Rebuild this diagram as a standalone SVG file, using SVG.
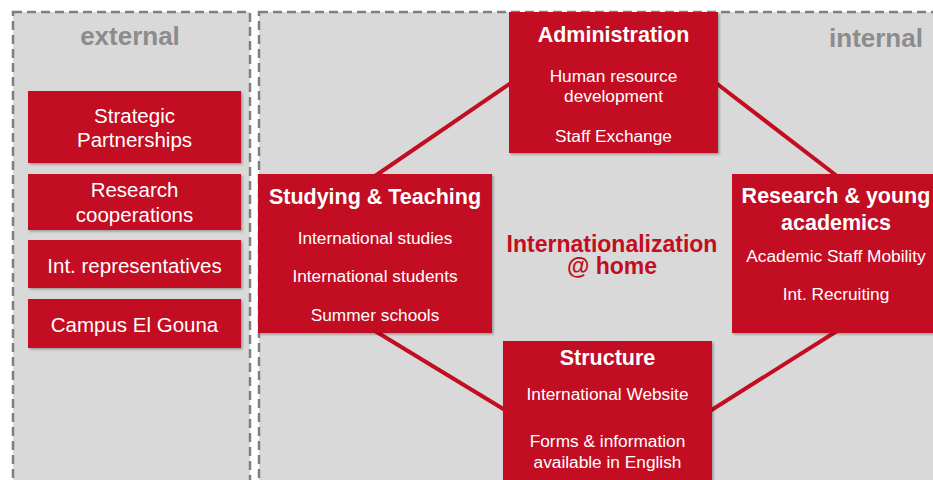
<svg xmlns="http://www.w3.org/2000/svg" width="933" height="480" viewBox="0 0 933 480">
<defs>
<filter id="sh" x="-10%" y="-10%" width="120%" height="120%">
<feDropShadow dx="1.5" dy="1.5" stdDeviation="1.2" flood-color="#000" flood-opacity="0.3"/>
</filter>
</defs>
<style>
.panel{fill:#d9d9d9;stroke:#7f7f7f;stroke-width:2.5;stroke-dasharray:9 5}
.box{fill:#c30d20;filter:url(#sh)}
.ptitle{font-family:"Liberation Sans",Arial,sans-serif;font-weight:bold;font-size:26px;fill:#8c8c8c;text-anchor:middle}
.t{font-family:"Liberation Sans",Arial,sans-serif;fill:#fff;text-anchor:middle}
.ext{font-size:20.5px}
.ttl{font-size:21.5px;font-weight:bold}
.it{font-size:17.3px}
.ctr{font-family:"Liberation Sans",Arial,sans-serif;font-weight:bold;font-size:23px;fill:#c30d20;text-anchor:middle}
.conn{stroke:#c30d20;stroke-width:4;fill:none}
</style>
<rect width="933" height="480" fill="#fff"/>
<g id="external-panel">
<rect class="panel" x="13" y="12" width="237" height="500"/>
<text class="ptitle" x="130" y="45">external</text>
</g>
<g id="internal-panel">
<rect class="panel" x="259" y="12" width="720" height="500"/>
<text class="ptitle" x="876" y="47">internal</text>
</g>
<g id="connectors">
<line class="conn" x1="375" y1="176" x2="511" y2="83"/>
<line class="conn" x1="716" y1="83" x2="837" y2="176"/>
<line class="conn" x1="375" y1="331" x2="505" y2="410"/>
<line class="conn" x1="710" y1="411" x2="837" y2="331"/>
</g>
<g id="strategic-partnerships">
<rect class="box" x="28" y="91" width="213" height="72"/>
<text class="t ext" x="134.5" y="123">Strategic</text>
<text class="t ext" x="134.5" y="147">Partnerships</text>
</g>
<g id="research-cooperations">
<rect class="box" x="28" y="174" width="213" height="56"/>
<text class="t ext" x="134.5" y="197">Research</text>
<text class="t ext" x="134.5" y="222">cooperations</text>
</g>
<g id="int-representatives">
<rect class="box" x="28" y="240" width="213" height="48"/>
<text class="t ext" x="134.5" y="273">Int. representatives</text>
</g>
<g id="campus-el-gouna">
<rect class="box" x="28" y="299" width="213" height="49"/>
<text class="t ext" x="134.5" y="332">Campus El Gouna</text>
</g>
<g id="administration">
<rect class="box" x="509" y="12" width="209" height="141"/>
<text class="t ttl" x="613.5" y="42">Administration</text>
<text class="t it" x="613.5" y="82">Human resource</text>
<text class="t it" x="613.5" y="102">development</text>
<text class="t it" x="613.5" y="142">Staff Exchange</text>
</g>
<g id="studying-teaching">
<rect class="box" x="258" y="174" width="234" height="159"/>
<text class="t ttl" x="375" y="204">Studying &amp; Teaching</text>
<text class="t it" x="375" y="244">International studies</text>
<text class="t it" x="375" y="282">International students</text>
<text class="t it" x="375" y="321">Summer schools</text>
</g>
<g id="research-young-academics">
<rect class="box" x="732" y="174" width="210" height="159"/>
<text class="t ttl" x="836" y="203">Research &amp; young</text>
<text class="t ttl" x="836" y="230">academics</text>
<text class="t it" x="836" y="262">Academic Staff Mobility</text>
<text class="t it" x="836" y="300">Int. Recruiting</text>
</g>
<g id="structure">
<rect class="box" x="503" y="341" width="209" height="150"/>
<text class="t ttl" x="607.5" y="365">Structure</text>
<text class="t it" x="607.5" y="400">International Website</text>
<text class="t it" x="607.5" y="447">Forms &amp; information</text>
<text class="t it" x="607.5" y="468">available in English</text>
</g>
<g id="center-label">
<text class="ctr" x="612" y="252">Internationalization</text>
<text class="ctr" x="612" y="274">@ home</text>
</g>
</svg>
